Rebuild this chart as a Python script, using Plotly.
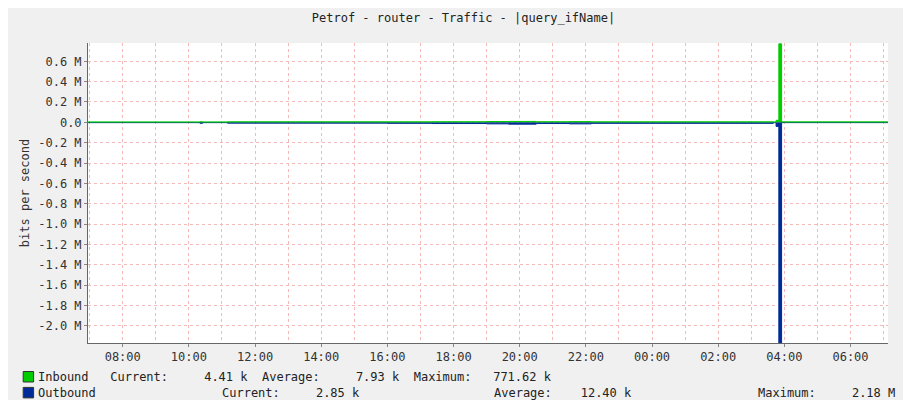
import plotly.graph_objects as go

# sample times (5 min resolution around the spike)
times = ["2024-01-01 06:57", "2024-01-01 10:20", "2024-01-01 10:25", "2024-01-01 11:10",
         "2024-01-01 16:00", "2024-01-01 17:20", "2024-01-01 19:00", "2024-01-01 19:40",
         "2024-01-01 20:30", "2024-01-01 21:30", "2024-01-01 22:10", "2024-01-02 03:40",
         "2024-01-02 03:45", "2024-01-02 03:50", "2024-01-02 03:55", "2024-01-02 04:00",
         "2024-01-02 07:08"]
inbound = [4000, 6000, 4000, 5000, 5000, 6000, 8000, 9000, 6000, 7000, 5000, 4000,
           20000, 771620, 5000, 4410, 4410]
outbound = [-3000, -9000, -3000, -8000, -10000, -12000, -15000, -18000, -12000, -15000, -10000, -3000,
            -40000, -2180000, -3000, -2850, -2850]

ytick_vals = [0.6e6, 0.4e6, 0.2e6, 0, -0.2e6, -0.4e6, -0.6e6, -0.8e6, -1.0e6, -1.2e6,
              -1.4e6, -1.6e6, -1.8e6, -2.0e6]
ytick_text = ["0.6 M", "0.4 M", "0.2 M", "0.0", "-0.2 M", "-0.4 M", "-0.6 M", "-0.8 M",
              "-1.0 M", "-1.2 M", "-1.4 M", "-1.6 M", "-1.8 M", "-2.0 M"]

GREEN = "#00CC00"
BLUE = "#002A97"
MONO = "DejaVu Sans Mono"
GRID = "#F4BABA"

fig = go.Figure()
fig.add_trace(go.Scatter(x=times, y=outbound, mode="lines", line=dict(color=BLUE, width=1, shape="hv"),
                         fill="tozeroy", fillcolor=BLUE))
fig.add_trace(go.Scatter(x=times, y=inbound, mode="lines", line=dict(color=GREEN, width=1, shape="hv"),
                         fill="tozeroy", fillcolor=GREEN))

fig.update_layout(
    width=911, height=400, showlegend=False,
    paper_bgcolor="#F0F0F0", plot_bgcolor="white",
    margin=dict(l=80, r=31, t=35, b=65, autoexpand=False),
    font=dict(family=MONO, size=12, color="#333"),
    title=dict(text="Petrof - router - Traffic - |query_ifName|", x=0.5, y=0.985,
               xanchor="center", yanchor="top", font=dict(family=MONO, size=12, color="#222")),
    xaxis=dict(type="date", range=["2024-01-01 06:57", "2024-01-02 07:08"], automargin=False,
               tickformat="%H:%M", dtick=2 * 3600000, tick0="2024-01-01 08:00",
               showgrid=True, gridcolor=GRID, griddash="dot", gridwidth=1,
               minor=dict(dtick=3600000, showgrid=True, gridcolor=GRID, griddash="dot"),
               ticks="outside", ticklen=3, tickcolor="#888",
               showline=True, linecolor="#666", zeroline=False,
               tickfont=dict(family=MONO, size=12, color="#333")),
    yaxis=dict(range=[-2.17e6, 0.78e6], tickvals=ytick_vals, ticktext=ytick_text, automargin=False,
               showgrid=True, gridcolor=GRID, griddash="dot",
               ticks="outside", ticklen=3, tickcolor="#888",
               showline=True, linecolor="#666", zeroline=False,
               title=dict(text="bits per second", font=dict(family=MONO, size=12, color="#333"), standoff=6),
               tickfont=dict(family=MONO, size=12, color="#333")),
)

# legend rows
fig.add_shape(type="rect", xref="paper", yref="paper", x0=-0.081, x1=-0.068, y0=-0.13, y1=-0.095,
              fillcolor=GREEN, line=dict(color="#333", width=1))
fig.add_shape(type="rect", xref="paper", yref="paper", x0=-0.081, x1=-0.068, y0=-0.183, y1=-0.148,
              fillcolor=BLUE, line=dict(color="#333", width=1))
fig.add_annotation(xref="paper", yref="paper", x=-0.065, y=-0.112, xanchor="left", yanchor="middle",
                   showarrow=False, text="Inbound   Current:     4.41 k  Average:     7.93 k  Maximum:   771.62 k",
                   font=dict(family=MONO, size=12, color="#222"))
for xp, txt in [(-0.065, "Outbound"), (0.165, "Current:     2.85 k"),
                (0.505, "Average:    12.40 k"), (0.835, "Maximum:     2.18 M")]:
    fig.add_annotation(xref="paper", yref="paper", x=xp, y=-0.165, xanchor="left", yanchor="middle",
                       showarrow=False, text=txt, font=dict(family=MONO, size=12, color="#222"))

fig.add_annotation(xref="paper", yref="paper", x=1.025, y=1.1, xanchor="left", yanchor="top",
                   showarrow=False, text="RRDTOOL / TOBI OETIKER", textangle=90,
                   font=dict(family=MONO, size=8, color="#999"))

fig.write_html("out.html")
